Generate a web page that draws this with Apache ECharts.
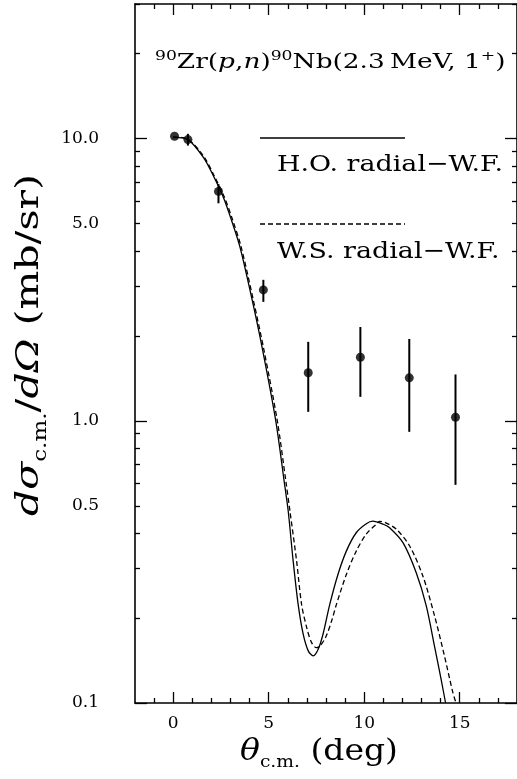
<!DOCTYPE html>
<html>
<head>
<meta charset="utf-8">
<script src="https://cdn.jsdelivr.net/npm/echarts@6/dist/echarts.min.js"></script>
<style>
html,body{margin:0;padding:0;background:#fff;}
#chart{width:517px;height:779px;}
</style>
</head>
<body>
<div id="chart"></div>
<script>
// H.O. radial-W.F. (solid)
var hoTheta = [0, 0.77, 1.58, 2.1, 2.63, 3.06, 3.5, 4.14, 4.69, 5.37, 5.81, 6.02, 6.28, 6.54, 6.8, 7.07, 7.33, 7.59, 7.85, 8.2, 8.63, 9.07, 9.59, 10.11, 10.45, 11.0, 11.33, 12.03, 12.72, 13.25, 13.68, 14.03, 14.26];
var hoValue = [10.1, 9.92, 8.58, 7.39, 6.19, 5.12, 4.12, 2.67, 1.77, 1.0, 0.61, 0.48, 0.319, 0.224, 0.176, 0.153, 0.147, 0.155, 0.176, 0.224, 0.286, 0.346, 0.402, 0.432, 0.441, 0.43, 0.418, 0.37, 0.29, 0.221, 0.159, 0.121, 0.1];
// W.S. radial-W.F. (dashed)
var wsTheta = [0, 0.77, 1.6, 2.12, 2.66, 3.1, 3.55, 4.2, 4.76, 5.45, 5.9, 6.11, 6.46, 6.72, 6.98, 7.24, 7.5, 7.68, 8.0, 8.3, 8.55, 9.07, 9.59, 10.11, 10.63, 10.8, 11.1, 11.68, 12.38, 13.07, 13.68, 14.2, 14.64, 14.81];
var wsValue = [10.15, 9.95, 8.65, 7.45, 6.25, 5.18, 4.15, 2.67, 1.77, 1.0, 0.61, 0.48, 0.319, 0.224, 0.186, 0.164, 0.157, 0.159, 0.172, 0.196, 0.224, 0.286, 0.346, 0.397, 0.43, 0.44, 0.436, 0.413, 0.36, 0.282, 0.204, 0.147, 0.109, 0.1];
// measured points
var expTheta = [0.07, 0.77, 2.37, 4.72, 7.07, 9.8, 12.36, 14.78];
var expValue = [10.2, 9.92, 6.5, 2.91, 1.48, 1.68, 1.42, 1.03];
var expLow  = [10.2, 9.45, 5.9, 2.64, 1.076, 1.216, 0.914, 0.593];
var expHigh = [10.2, 10.4, 6.9, 3.16, 1.905, 2.15, 1.95, 1.46];

var xLabels = [0, 5, 10, 15];
var xMinor = [-1, 1, 2, 3, 4, 6, 7, 8, 9, 11, 12, 13, 14, 16, 17];
var yLabels = [0.1, 0.5, 1, 5, 10];
var yMajor = [0.1, 1, 10];
var yMinor = [0.2, 0.3, 0.4, 0.5, 0.6, 0.7, 0.8, 0.9, 2, 3, 4, 5, 6, 7, 8, 9, 20, 30];

var serif = 'DejaVu Serif';

function pairs(a, b) {
    var out = [];
    for (var i = 0; i < a.length; i++) {
        out.push([a[i], b[i]]);
    }
    return out;
}

var errData = [];
for (var i = 0; i < expTheta.length; i++) {
    errData.push([expTheta[i], expLow[i], expHigh[i]]);
}

var myChart = echarts.init(document.getElementById('chart'));

function xAxisFor(grid, pos, ticks, len, main) {
    return {
        gridIndex: grid,
        type: 'value',
        position: pos,
        min: -2,
        max: 18,
        axisLine: {show: main, onZero: false, lineStyle: {color: '#000', width: 1.6}},
        axisTick: {show: true, inside: true, length: len, customValues: ticks, lineStyle: {color: '#000', width: 1.3}},
        axisLabel: {
            show: main && pos === 'bottom',
            customValues: xLabels,
            margin: 12,
            color: '#000',
            fontFamily: serif,
            fontSize: 17
        },
        splitLine: {show: false}
    };
}

function yAxisFor(grid, pos, ticks, len, main) {
    return {
        gridIndex: grid,
        type: 'log',
        logBase: 10,
        position: pos,
        min: 0.1,
        max: 30,
        axisLine: {show: main, onZero: false, lineStyle: {color: '#000', width: 1.6}},
        axisTick: {show: true, inside: true, length: len, customValues: ticks, lineStyle: {color: '#000', width: 1.3}},
        axisLabel: {
            show: main && pos === 'left',
            customValues: yLabels,
            margin: 36,
            color: '#000',
            fontFamily: serif,
            fontSize: 17,
            formatter: function (v) { return Number(v).toFixed(1); }
        },
        splitLine: {show: false},
        minorSplitLine: {show: false}
    };
}

var titleRich = {
    sup: {fontFamily: serif, fontSize: 13, lineHeight: 13, verticalAlign: 'top'},
    it: {fontFamily: serif, fontSize: 20, lineHeight: 26, fontStyle: 'italic'},
    n: {fontFamily: serif, fontSize: 20, lineHeight: 26}
};
var yTitleRich = {
    it: {fontFamily: serif, fontSize: 32, fontStyle: 'italic', lineHeight: 40},
    n: {fontFamily: serif, fontSize: 32, lineHeight: 40},
    sub: {fontFamily: serif, fontSize: 18, lineHeight: 18, verticalAlign: 'bottom'}
};
var xTitleRich = {
    it: {fontFamily: serif, fontSize: 30, fontStyle: 'italic', lineHeight: 38},
    n: {fontFamily: serif, fontSize: 30, lineHeight: 38},
    sub: {fontFamily: serif, fontSize: 17, lineHeight: 17, verticalAlign: 'bottom'}
};

var option = {
    animation: false,
    backgroundColor: '#fff',
    grid: [
        {left: 135, right: 0, top: 4, bottom: 76},
        {left: 135, right: 0, top: 4, bottom: 76}
    ],
    xAxis: [
        xAxisFor(0, 'bottom', xLabels, 11, true),
        xAxisFor(0, 'top', xLabels, 11, true),
        xAxisFor(1, 'bottom', xMinor, 5, false),
        xAxisFor(1, 'top', xMinor, 5, false)
    ],
    yAxis: [
        yAxisFor(0, 'left', yMajor, 12, true),
        yAxisFor(0, 'right', yMajor, 12, true),
        yAxisFor(1, 'left', yMinor, 5, false),
        yAxisFor(1, 'right', yMinor, 5, false)
    ],
    graphic: [
        {
            type: 'text',
            x: 155, y: 63, scaleX: 1.32,
            style: {
                text: '{sup|90}{n|Zr(}{it|p}{n|,}{it|n}{n|)}{sup|90}{n|Nb(2.3\u2009MeV, 1}{sup|+}{n|)}',
                fill: '#000',
                verticalAlign: 'middle',
                rich: titleRich
            }
        },
        {type: 'line', shape: {x1: 260, y1: 138, x2: 405, y2: 138}, style: {stroke: '#000', lineWidth: 1.3}},
        {
            type: 'text', x: 277, y: 165, scaleX: 1.17,
            style: {text: 'H.O. radial\u2212W.F.', fill: '#000', font: '23px "DejaVu Serif"', verticalAlign: 'middle'}
        },
        {type: 'line', shape: {x1: 260, y1: 224, x2: 405, y2: 224}, style: {stroke: '#000', lineWidth: 1.3, lineDash: [5, 3]}},
        {
            type: 'text', x: 277, y: 252, scaleX: 1.17,
            style: {text: 'W.S. radial\u2212W.F.', fill: '#000', font: '23px "DejaVu Serif"', verticalAlign: 'middle'}
        },
        {
            type: 'text', x: 30, y: 345, rotation: Math.PI / 2, scaleX: 1.28,
            style: {
                text: '{it|d\u03c3}{sub|c.m.}{n|/}{it|d\u03a9}{n| (mb/sr)}',
                fill: '#000',
                align: 'center',
                verticalAlign: 'middle',
                rich: yTitleRich
            }
        },
        {
            type: 'text', x: 319, y: 752, scaleX: 1.1,
            style: {
                text: '{it|\u03b8}{sub|c.m.}{n| (deg)}',
                fill: '#000',
                align: 'center',
                verticalAlign: 'middle',
                rich: xTitleRich
            }
        }
    ],
    series: [
        {
            name: 'H.O. radial-W.F.',
            type: 'line',
            xAxisIndex: 0, yAxisIndex: 0,
            data: pairs(hoTheta, hoValue),
            showSymbol: false,
            smooth: 0.3,
            lineStyle: {color: '#000', width: 1.3}
        },
        {
            name: 'W.S. radial-W.F.',
            type: 'line',
            xAxisIndex: 0, yAxisIndex: 0,
            data: pairs(wsTheta, wsValue),
            showSymbol: false,
            smooth: 0.3,
            lineStyle: {color: '#000', width: 1.3, type: [5, 3]}
        },
        {
            name: 'error',
            type: 'custom',
            xAxisIndex: 0, yAxisIndex: 0,
            data: errData,
            renderItem: function (params, api) {
                var lo = api.coord([api.value(0), api.value(1)]);
                var hi = api.coord([api.value(0), api.value(2)]);
                return {
                    type: 'line',
                    shape: {x1: lo[0], y1: lo[1], x2: hi[0], y2: hi[1]},
                    style: {stroke: '#000', lineWidth: 2}
                };
            },
            z: 3
        },
        {
            name: 'data',
            type: 'scatter',
            xAxisIndex: 0, yAxisIndex: 0,
            data: pairs(expTheta, expValue),
            symbol: 'circle',
            symbolSize: 9,
            itemStyle: {color: '#000'},
            z: 4
        }
    ]
};
myChart.setOption(option);
</script>
</body>
</html>
